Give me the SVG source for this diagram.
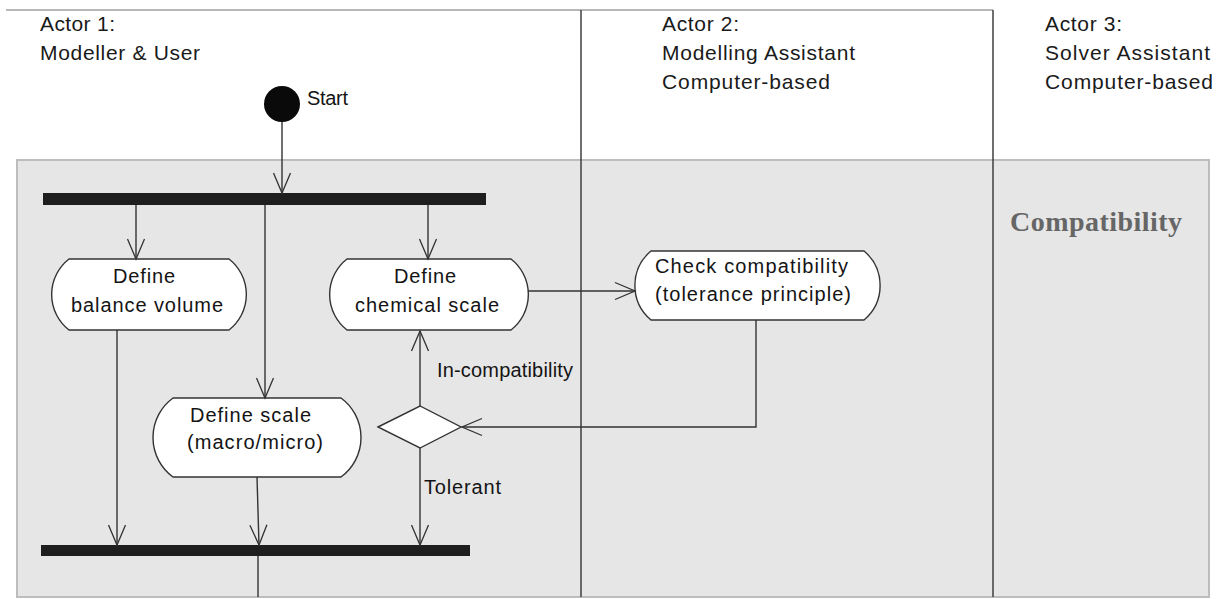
<svg xmlns="http://www.w3.org/2000/svg" width="1222" height="599" viewBox="0 0 1222 599">
<defs>
<style>
.t{font-family:"Liberation Sans",Arial,sans-serif;font-size:20px;fill:#141414}
.a{font-family:"Liberation Sans",Arial,sans-serif;font-size:21px;fill:#1a1a1a}
.node{fill:#ffffff;stroke:#333333;stroke-width:1.4}
.bar{fill:#1e1e1e}
.c{fill:none;stroke:#333333;stroke-width:1.4}
.lane{stroke:#333333;stroke-width:1.4}
</style>
<marker id="arr" markerUnits="userSpaceOnUse" markerWidth="24" markerHeight="24" viewBox="-22 -11 24 22" refX="0" refY="0" orient="auto">
<path d="M-20,-8.5 L0,0 L-20,8.5" fill="none" stroke="#333333" stroke-width="1.3"/>
</marker>
</defs>
<rect width="1222" height="599" fill="#ffffff"/>
<g id="swimlanes">
<line x1="6" y1="10" x2="993" y2="10" stroke="#a0a0a0" stroke-width="1.5"/>
<rect x="17" y="160" width="1192" height="437" fill="#e6e6e6" stroke="#bdbdbd" stroke-width="2"/>
<line class="lane" x1="581" y1="10" x2="581" y2="597"/>
<line class="lane" x1="993" y1="10" x2="993" y2="597"/>
<text class="a" x="40" y="31" textLength="75">Actor 1:</text>
<text class="a" x="40" y="60" textLength="160">Modeller &amp; User</text>
<text class="a" x="662" y="31" textLength="77">Actor 2:</text>
<text class="a" x="662" y="60" textLength="193">Modelling Assistant</text>
<text class="a" x="662" y="89" textLength="168">Computer-based</text>
<text class="a" x="1045" y="31" textLength="77">Actor 3:</text>
<text class="a" x="1045" y="60" textLength="165">Solver Assistant</text>
<text class="a" x="1045" y="89" textLength="168">Computer-based</text>
<text x="1010" y="231" font-family="'Liberation Serif','Times New Roman',serif" font-weight="bold" font-size="28" fill="#666666" textLength="172">Compatibility</text>
</g>
<g id="start">
<circle cx="282" cy="104" r="18" fill="#0a0a0a"/>
<text class="t" x="307" y="105" font-size="18" textLength="41">Start</text>
</g>
<g id="fork">
<rect class="bar" x="43" y="193" width="443" height="12"/>
</g>
<g id="join">
<rect class="bar" x="41" y="545" width="429" height="11"/>
</g>
<g id="define-balance-volume">
<path class="node" d="M69,259 H229 A45,45 0 0 1 229,330 H69 A45,45 0 0 1 69,259 Z"/>
<text class="t" x="113" y="283" textLength="62">Define</text>
<text class="t" x="71" y="312" textLength="152">balance volume</text>
</g>
<g id="define-chemical-scale">
<path class="node" d="M347,259 H511 A45,45 0 0 1 511,330 H347 A45,45 0 0 1 347,259 Z"/>
<text class="t" x="394" y="283" textLength="62">Define</text>
<text class="t" x="355" y="312" textLength="144">chemical scale</text>
</g>
<g id="define-scale">
<path class="node" d="M173,398 H341 A49,49 0 0 1 341,477 H173 A49,49 0 0 1 173,398 Z"/>
<text class="t" x="190" y="422" textLength="121">Define scale</text>
<text class="t" x="187" y="449" textLength="136">(macro/micro)</text>
</g>
<g id="check-compatibility">
<path class="node" d="M651,251 H864 A45,45 0 0 1 864,320 H651 A45,45 0 0 1 651,251 Z"/>
<text class="t" x="655" y="273" textLength="193">Check compatibility</text>
<text class="t" x="655" y="301" textLength="196">(tolerance principle)</text>
</g>
<g id="decision">
<path class="node" d="M378,427 L420,406 L461,427 L420,448 Z"/>
</g>
<g id="connectors">
<path class="c" d="M282,122 V193" marker-end="url(#arr)"/>
<path class="c" d="M136,205 V259" marker-end="url(#arr)"/>
<path class="c" d="M265,205 V398" marker-end="url(#arr)"/>
<path class="c" d="M428,205 V259" marker-end="url(#arr)"/>
<path class="c" d="M528,291 H635" marker-end="url(#arr)"/>
<path class="c" d="M756,320 V427 H462" marker-end="url(#arr)"/>
<path class="c" d="M420,406 V331" marker-end="url(#arr)"/>
<path class="c" d="M420,448 V545" marker-end="url(#arr)"/>
<path class="c" d="M117,330 V545" marker-end="url(#arr)"/>
<path class="c" d="M257,477 L259,545" marker-end="url(#arr)"/>
<path class="c" d="M258,556 V597"/>
<text class="t" x="437" y="377" font-size="19" textLength="136">In-compatibility</text>
<text class="t" x="424" y="494" font-size="19" textLength="77">Tolerant</text>
</g>
</svg>
